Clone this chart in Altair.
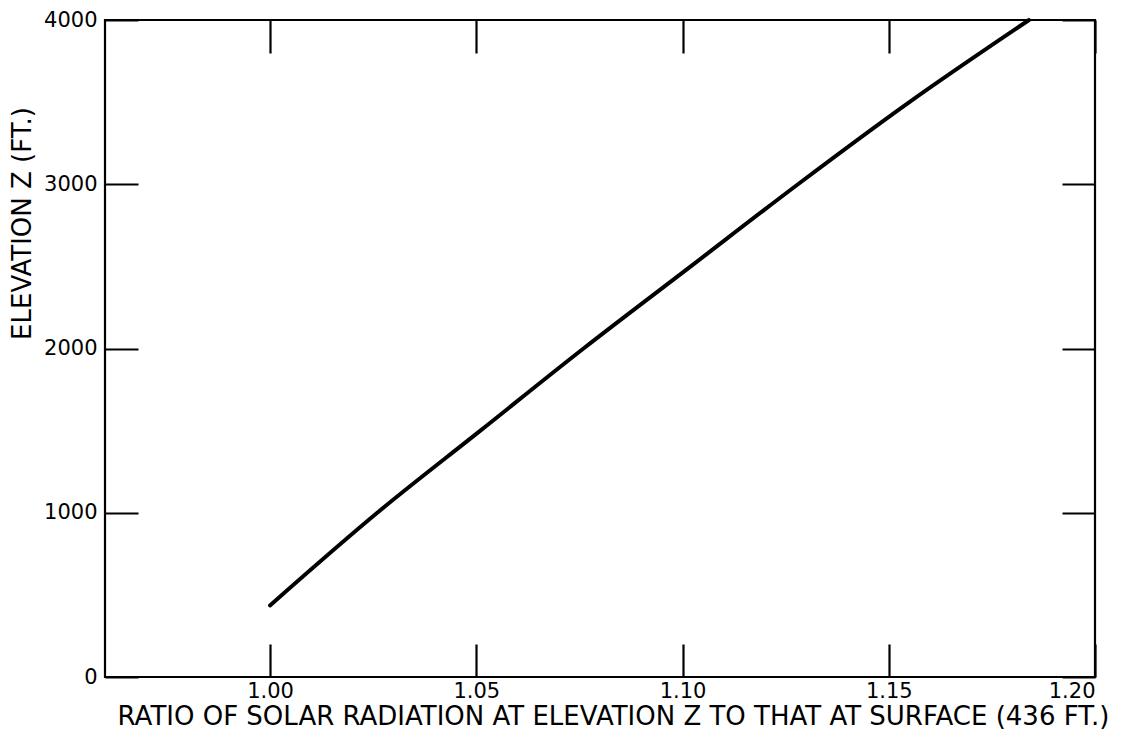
import altair as alt
import pandas as pd

# Data
ratio = [1.000, 1.026, 1.051, 1.076, 1.102, 1.128, 1.155, 1.184]
elevation = [436, 1000, 1500, 2000, 2500, 3000, 3500, 4000]
x_ticks = [1.00, 1.05, 1.10, 1.15, 1.20]
y_ticks = [0, 1000, 2000, 3000, 4000]

x_title = "RATIO OF SOLAR RADIATION AT ELEVATION Z TO THAT AT SURFACE (436 FT.)"
y_title = "ELEVATION Z (FT.)"

df = pd.DataFrame({"ratio": ratio, "elevation": elevation})

W, H = 990, 657
TICK = 33
FONT = "DejaVu Sans"

xscale = alt.Scale(domain=[0.96, 1.20], nice=False, zero=False)
yscale = alt.Scale(domain=[0, 4000], nice=False, zero=False)

base_axis = dict(domain=False, grid=False, tickSize=TICK, tickWidth=2.2, tickColor="black",
                 offset=-TICK, labelFont=FONT, labelFontSize=21, labelColor="black",
                 titleFont=FONT, titleFontSize=26, titleFontWeight="normal", titleColor="black")

line = alt.Chart(df).mark_line(color="black", strokeWidth=4, strokeCap="round", interpolate="monotone").encode(
    x=alt.X("ratio:Q", scale=xscale,
            axis=alt.Axis(orient="bottom", values=x_ticks, format=".2f", title=x_title,
                          labelPadding=3, titlePadding=2, titleX=508, **base_axis)),
    y=alt.Y("elevation:Q", scale=yscale,
            axis=alt.Axis(orient="left", values=y_ticks, format="d", title=y_title,
                          labelPadding=8, titleX=-103, titleY=203, **base_axis)),
)

frame = alt.Chart(df).mark_point(opacity=0).encode(
    x=alt.X("ratio:Q", scale=xscale,
            axis=alt.Axis(orient="top", values=x_ticks, labels=False, title=None, **base_axis)),
    y=alt.Y("elevation:Q", scale=yscale,
            axis=alt.Axis(orient="right", values=y_ticks, labels=False, title=None, **base_axis)),
)

chart = alt.layer(line, frame).resolve_axis(x="independent", y="independent").properties(
    width=W, height=H,
    autosize=alt.AutoSizeParams(type="none"),
    padding={"left": 97, "top": 12, "right": 25, "bottom": 52},
    background="white",
).configure_view(stroke="black", strokeWidth=2.2)

chart.save("out.html", embed_options={"renderer": "svg", "actions": False})
